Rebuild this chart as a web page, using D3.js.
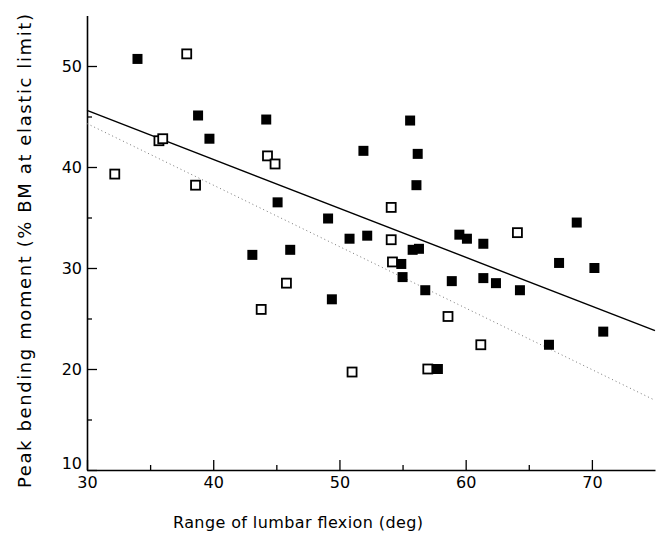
<!DOCTYPE html>
<html lang="en">
<head>
<meta charset="utf-8">
<title>Peak bending moment vs lumbar flexion</title>
<script src="https://cdn.jsdelivr.net/npm/d3@7"></script>
<style>
  body { margin: 0; background: #fff; }
  text { font-family: "DejaVu Sans", sans-serif; fill: #000; }
  .domain { stroke: #000; stroke-width: 1.6px; }
  .tick line { stroke: #000; stroke-width: 1.3px; }
</style>
</head>
<body>
<div id="chart"></div>
<script>
// filled squares
var filledX = [34.0, 38.8, 39.7, 44.2, 45.1, 46.1, 43.1, 49.1, 49.4, 50.8, 52.2, 51.9,
               55.6, 56.2, 56.1, 55.8, 56.3, 54.9, 55.0, 56.8, 58.9, 57.5, 57.8, 59.5,
               60.1, 61.4, 61.4, 62.4, 64.3, 66.6, 67.4, 68.8, 70.2, 70.9];
var filledY = [50.7, 45.1, 42.8, 44.7, 36.5, 31.8, 31.3, 34.9, 26.9, 32.9, 33.2, 41.6,
               44.6, 41.3, 38.2, 31.8, 31.9, 30.4, 29.1, 27.8, 28.7, 20.0, 20.0, 33.3,
               32.9, 32.4, 29.0, 28.5, 27.8, 22.4, 30.5, 34.5, 30.0, 23.7];

// open squares
var openX = [32.2, 35.7, 36.0, 37.9, 38.6, 44.3, 44.9, 43.8, 45.8, 51.0, 54.1, 54.1,
             54.2, 57.0, 58.6, 61.2, 64.1];
var openY = [39.3, 42.6, 42.8, 51.2, 38.2, 41.1, 40.3, 25.9, 28.5, 19.7, 36.0, 32.8,
             30.6, 20.0, 25.2, 22.4, 33.5];

// regression lines (end points)
var solidLine = [[30, 45.6], [75, 23.8]];
var dottedLine = [[30, 44.3], [75, 16.9]];

var xMajor = [30, 40, 50, 60, 70];
var xMinor = [35, 45, 55, 65];
var yMajor = [10, 20, 30, 40, 50];
var yMinor = [15, 25, 35, 45];

var W = 657, H = 540;

var svg = d3.select("#chart").append("svg")
    .attr("width", W)
    .attr("height", H);

var x = d3.scaleLinear().domain([30, 75]).range([87, 655]);
var y = d3.scaleLinear().domain([10, 55]).range([470, 15.5]);

// minor ticks
svg.append("g")
    .attr("transform", "translate(0,470)")
    .call(d3.axisBottom(x).tickValues(xMinor).tickSize(-5).tickSizeOuter(0).tickFormat(""))
    .call(g => g.select(".domain").remove());
svg.append("g")
    .attr("transform", "translate(87,0)")
    .call(d3.axisLeft(y).tickValues(yMinor).tickSize(-5).tickSizeOuter(0).tickFormat(""))
    .call(g => g.select(".domain").remove());

// major axes
var xAxis = svg.append("g")
    .attr("transform", "translate(0,470)")
    .call(d3.axisBottom(x).tickValues(xMajor).tickSize(-10).tickSizeOuter(0).tickPadding(7));
xAxis.selectAll("text").attr("font-size", 16).attr("font-family", "DejaVu Sans");

var yAxis = svg.append("g")
    .attr("transform", "translate(87,0)")
    .call(d3.axisLeft(y).tickValues(yMajor).tickSize(-10).tickSizeOuter(0).tickPadding(5));
yAxis.selectAll("text").attr("font-size", 16).attr("font-family", "DejaVu Sans");
// lift the bottom label off the x axis
yAxis.selectAll(".tick").filter(d => d === 10).select("text").attr("dy", "-0.1em");

// regression lines
var line = d3.line().x(d => x(d[0])).y(d => y(d[1]));
svg.append("path")
    .datum(dottedLine)
    .attr("d", line)
    .attr("fill", "none")
    .attr("stroke", "#777")
    .attr("stroke-width", 1)
    .attr("stroke-dasharray", "1,3");
svg.append("path")
    .datum(solidLine)
    .attr("d", line)
    .attr("fill", "none")
    .attr("stroke", "#000")
    .attr("stroke-width", 1.4);

// points
var sF = 10, sO = 9;
svg.selectAll(".filled")
    .data(d3.zip(filledX, filledY))
    .enter().append("rect")
    .attr("class", "filled")
    .attr("x", d => x(d[0]) - sF / 2)
    .attr("y", d => y(d[1]) - sF / 2)
    .attr("width", sF)
    .attr("height", sF)
    .attr("fill", "#000");

svg.selectAll(".open")
    .data(d3.zip(openX, openY))
    .enter().append("rect")
    .attr("class", "open")
    .attr("x", d => x(d[0]) - sO / 2)
    .attr("y", d => y(d[1]) - sO / 2)
    .attr("width", sO)
    .attr("height", sO)
    .attr("fill", "#fff")
    .attr("stroke", "#000")
    .attr("stroke-width", 1.8);

// axis titles
svg.append("text")
    .attr("x", 298)
    .attr("y", 528)
    .attr("text-anchor", "middle")
    .attr("font-size", 16)
    .attr("textLength", 250)
    .attr("lengthAdjust", "spacing")
    .text("Range of lumbar flexion (deg)");

svg.append("text")
    .attr("transform", "translate(31,251) rotate(-90)")
    .attr("text-anchor", "middle")
    .attr("font-size", 18)
    .attr("textLength", 474)
    .attr("lengthAdjust", "spacing")
    .text("Peak bending moment (% BM at elastic limit)");
</script>
</body>
</html>
